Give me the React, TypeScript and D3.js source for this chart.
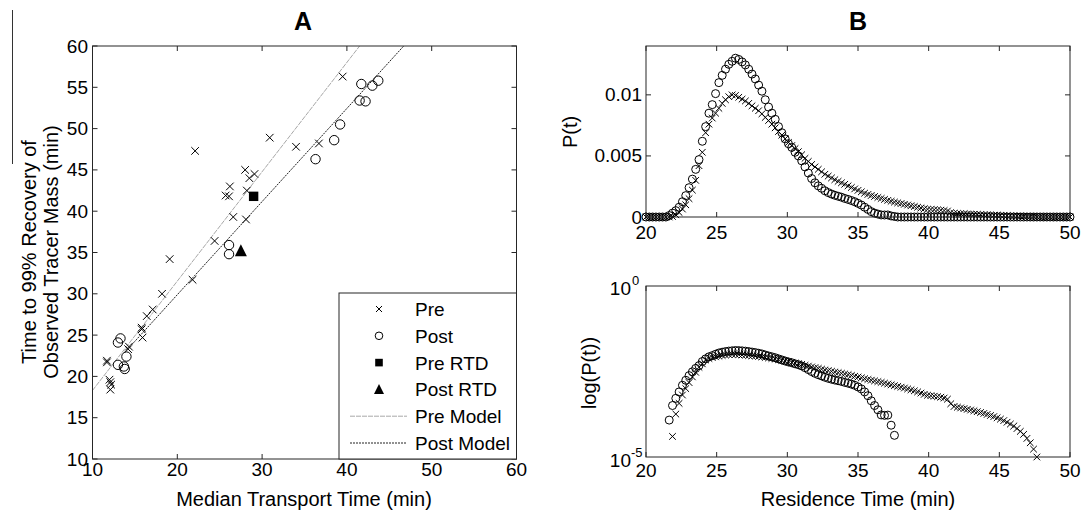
import React from "react";
import * as d3 from "d3";

// ---------- Panel A data ----------
const preX = [22.1, 30.9, 34.0, 28.0, 29.1, 28.5, 26.2, 25.7, 26.1, 28.2, 26.6, 28.1, 24.4, 36.7, 39.5, 19.1, 21.8, 18.2, 17.1, 16.4, 15.8, 15.8, 15.9, 14.3, 14.2, 11.7, 11.7, 12.0, 12.1, 12.1, 12.2];
const preY = [47.3, 48.9, 47.8, 45.0, 44.5, 44.0, 43.0, 41.9, 41.8, 42.5, 39.3, 39.0, 36.4, 48.2, 56.3, 34.2, 31.7, 30.0, 28.1, 27.3, 25.9, 25.7, 24.7, 23.6, 23.3, 21.9, 21.7, 19.6, 19.3, 18.4, 19.0];
const postX = [41.7, 43.0, 43.7, 41.5, 42.2, 39.2, 38.5, 36.3, 26.1, 26.1, 13.3, 13.0, 14.0, 13.0, 13.7, 13.8];
const postY = [55.4, 55.2, 55.8, 53.4, 53.3, 50.5, 48.6, 46.3, 35.9, 34.8, 24.6, 24.1, 22.4, 21.4, 21.2, 20.9];
const preRTD = [29.0, 41.8];
const postRTD = [27.5, 35.2];
const preModelX = [10, 41.5];
const preModelY = [18.3, 60];
const postModelX = [14.6, 46.7];
const postModelY = [23.8, 60];
const legendLabels = ["Pre", "Post", "Pre RTD", "Post RTD", "Pre Model", "Post Model"];
const ticksA = [10, 15, 20, 25, 30, 35, 40, 45, 50, 55, 60];
const xTicksA = [10, 20, 30, 40, 50, 60];

// ---------- Panel B data ----------
const timeStart = 20;
const timeStep = 0.234375;
const preP = [
  0, 0, 0, 0, 0, 0, 0, 0, 4e-5, 1.8e-4,
  3.7e-4, 6.5e-4, 1.0e-3, 1.5e-3, 2.2e-3, 3.0e-3, 4.2e-3, 5.3e-3, 6.9e-3, 7.6e-3,
  8.1e-3, 8.5e-3, 8.9e-3, 9.3e-3, 9.6e-3, 9.85e-3, 1.0e-2, 9.95e-3, 9.8e-3, 9.65e-3,
  9.5e-3, 9.3e-3, 9.1e-3, 8.9e-3, 8.7e-3, 8.45e-3, 8.15e-3, 7.9e-3, 7.6e-3, 7.3e-3,
  7.0e-3, 6.7e-3, 6.4e-3, 6.1e-3, 5.85e-3, 5.6e-3, 5.35e-3, 5.1e-3, 4.8e-3, 4.55e-3,
  4.3e-3, 4.1e-3, 3.9e-3, 3.7e-3, 3.5e-3, 3.35e-3, 3.2e-3, 3.05e-3, 2.92e-3, 2.8e-3,
  2.68e-3, 2.55e-3, 2.42e-3, 2.3e-3, 2.18e-3, 2.06e-3, 1.95e-3, 1.85e-3, 1.76e-3, 1.68e-3,
  1.6e-3, 1.52e-3, 1.44e-3, 1.36e-3, 1.29e-3, 1.22e-3, 1.16e-3, 1.1e-3, 1.04e-3, 9.8e-4,
  9.2e-4, 8.6e-4, 8.0e-4, 7.4e-4, 6.8e-4, 6.4e-4, 6.2e-4, 6.0e-4, 5.8e-4, 5.6e-4,
  5.3e-4, 4.9e-4, 3.6e-4, 3.0e-4, 2.85e-4, 2.72e-4, 2.6e-4, 2.48e-4, 2.36e-4, 2.24e-4,
  2.12e-4, 2.0e-4, 1.88e-4, 1.76e-4, 1.64e-4, 1.52e-4, 1.4e-4, 1.28e-4, 1.16e-4, 1.04e-4,
  9.2e-5, 8.0e-5, 6.8e-5, 5.6e-5, 4.6e-5, 3.5e-5, 2.6e-5, 1.7e-5, 1.0e-5, 0,
  0, 0, 0, 0, 0, 0, 0, 0, 0,
];
const postP = [
  0, 0, 0, 0, 0, 0, 0, 1.2e-4, 3.2e-4, 5.2e-4,
  8.0e-4, 1.25e-3, 1.75e-3, 2.4e-3, 3.1e-3, 3.9e-3, 4.7e-3, 6.2e-3, 7.4e-3, 8.5e-3,
  9.2e-3, 1.01e-2, 1.10e-2, 1.16e-2, 1.21e-2, 1.25e-2, 1.275e-2, 1.30e-2, 1.29e-2, 1.27e-2,
  1.245e-2, 1.21e-2, 1.17e-2, 1.13e-2, 1.08e-2, 1.03e-2, 9.6e-3, 9.0e-3, 8.5e-3, 8.0e-3,
  7.4e-3, 6.9e-3, 6.4e-3, 6.0e-3, 5.7e-3, 5.3e-3, 5.0e-3, 4.6e-3, 4.1e-3, 3.6e-3,
  3.15e-3, 2.8e-3, 2.55e-3, 2.35e-3, 2.15e-3, 2.0e-3, 1.88e-3, 1.78e-3, 1.7e-3, 1.62e-3,
  1.52e-3, 1.44e-3, 1.35e-3, 1.25e-3, 1.12e-3, 9.8e-4, 8.0e-4, 6.2e-4, 4.4e-4, 3.2e-4,
  2.4e-4, 1.7e-4, 1.65e-4, 1.68e-4, 8.5e-5, 4.3e-5, 0, 0, 0, 0,
  0, 0, 0, 0, 0, 0, 0, 0, 0, 0,
  0, 0, 0, 0, 0, 0, 0, 0, 0, 0,
  0, 0, 0, 0, 0, 0, 0, 0, 0, 0,
  0, 0, 0, 0, 0, 0, 0, 0, 0, 0,
  0, 0, 0, 0, 0, 0, 0, 0, 0,
];
const xTicksB = [20, 25, 30, 35, 40, 45, 50];
const yTicksB1 = [0, 0.005, 0.01];
const yTickLabelsB1 = ["0", "0.005", "0.01"];

const FONT = "'Liberation Sans', Arial, Helvetica, sans-serif";
const AX = "#262626";
const TL = 5;

function XMark({ x, y, r }: { x: number; y: number; r: number }) {
  return <path d={`M${x - r},${y - r}L${x + r},${y + r}M${x - r},${y + r}L${x + r},${y - r}`} stroke="#000" strokeWidth={1} fill="none" />;
}

function Frame({ x, y, xt, yt }: any) {
  const [x0, x1] = x.range();
  const [y0, y1] = y.range();
  const top = Math.min(y0, y1), bot = Math.max(y0, y1);
  return (
    <g stroke={AX} strokeWidth={1} fill="none">
      <rect x={x0} y={top} width={x1 - x0} height={bot - top} />
      {xt.map((t: number) => (
        <g key={"x" + t}>
          <line x1={x(t)} x2={x(t)} y1={bot} y2={bot - TL} />
          <line x1={x(t)} x2={x(t)} y1={top} y2={top + TL} />
        </g>
      ))}
      {yt.map((t: number) => (
        <g key={"y" + t}>
          <line x1={x0} x2={x0 + TL} y1={y(t)} y2={y(t)} />
          <line x1={x1} x2={x1 - TL} y1={y(t)} y2={y(t)} />
        </g>
      ))}
    </g>
  );
}

export default function App() {
  const xA = d3.scaleLinear().domain([10, 60]).range([92.5, 516.5]);
  const yA = d3.scaleLinear().domain([10, 60]).range([459, 46]);
  const xB = d3.scaleLinear().domain([20, 50]).range([646, 1070]);
  const yB1 = d3.scaleLinear().domain([0, 0.014]).range([217, 46]);
  const yB2 = d3.scaleLog().domain([1e-5, 1]).range([457, 286]);
  const times = d3.range(preP.length).map((i) => timeStart + i * timeStep);
  const lineA = d3.line<[number, number]>().x((d) => xA(d[0])).y((d) => yA(d[1]));
  const preModel = preModelX.map((v, i) => [v, preModelY[i]] as [number, number]);
  const postModel = postModelX.map((v, i) => [v, postModelY[i]] as [number, number]);

  const legX = 339, legTop = 293, legR = 516.5, legB = 459;
  const rowY = (k: number) => 309 + k * 26.8;
  const mx = 379;

  const tri = (cx: number, cy: number, s: number) =>
    `M${cx},${cy - s * 0.55}L${cx + s / 2},${cy + s * 0.45}L${cx - s / 2},${cy + s * 0.45}Z`;

  return (
    <svg width={1084} height={513} style={{ position: "absolute", left: 0, top: 0, background: "#fff" }} fontFamily={FONT}>
      <rect x={0} y={0} width={1084} height={513} fill="#fff" />
      <line x1={12.5} x2={12.5} y1={10} y2={164} stroke="#333" strokeWidth={1} />

      {/* Panel A */}
      <text x={303} y={30} textAnchor="middle" fontSize={25} fontWeight="bold">A</text>
      <line x1={0} x2={0} y1={0} y2={0} />
      <path d={lineA(preModel) || ""} stroke="#a8a8a8" strokeWidth={1} fill="none" strokeDasharray="5,1" />
      <path d={lineA(postModel) || ""} stroke="#222" strokeWidth={1} fill="none" strokeDasharray="2,1" />
      {preX.map((v, i) => <XMark key={"pa" + i} x={xA(v)} y={yA(preY[i])} r={3.8} />)}
      {postX.map((v, i) => <circle key={"pc" + i} cx={xA(v)} cy={yA(postY[i])} r={4.7} fill="none" stroke="#000" strokeWidth={1} />)}
      <rect x={xA(preRTD[0]) - 4.7} y={yA(preRTD[1]) - 4.7} width={9.4} height={9.4} fill="#000" />
      <path d={tri(xA(postRTD[0]), yA(postRTD[1]), 12)} fill="#000" />
      <Frame x={xA} y={yA} xt={xTicksA} yt={ticksA} />
      {ticksA.map((t) => (
        <text key={"ya" + t} x={88} y={yA(t) + 6.5} textAnchor="end" fontSize={19}>{t}</text>
      ))}
      {xTicksA.map((t) => (
        <text key={"xa" + t} x={xA(t)} y={476} textAnchor="middle" fontSize={19}>{t}</text>
      ))}
      <text x={304} y={506} textAnchor="middle" fontSize={20}>Median Transport Time (min)</text>
      <text transform="translate(36,252) rotate(-90)" textAnchor="middle" fontSize={20}>Time to 99% Recovery of</text>
      <text transform="translate(58,252) rotate(-90)" textAnchor="middle" fontSize={20}>Observed Tracer Mass (min)</text>

      {/* Legend */}
      <rect x={legX} y={legTop} width={legR - legX} height={legB - legTop} fill="#fff" stroke={AX} strokeWidth={1} />
      <XMark x={mx} y={rowY(0)} r={3} />
      <circle cx={mx} cy={rowY(1)} r={3.8} fill="none" stroke="#000" />
      <rect x={mx - 3.8} y={rowY(2) - 3.8} width={7.6} height={7.6} fill="#000" />
      <path d={tri(mx, rowY(3), 10)} fill="#000" />
      <line x1={350} x2={407} y1={rowY(4)} y2={rowY(4)} stroke="#a8a8a8" strokeDasharray="5,1" />
      <line x1={350} x2={407} y1={rowY(5)} y2={rowY(5)} stroke="#222" strokeDasharray="2,1" />
      {legendLabels.map((l, k) => (
        <text key={l} x={415} y={rowY(k) + 7} fontSize={19}>{l}</text>
      ))}

      {/* Panel B top */}
      <text x={858} y={30} textAnchor="middle" fontSize={25} fontWeight="bold">B</text>
      {times.map((t, i) => <circle key={"bc" + i} cx={xB(t)} cy={yB1(postP[i])} r={4} fill="none" stroke="#000" strokeWidth={1} />)}
      {times.map((t, i) => <XMark key={"bx" + i} x={xB(t)} y={yB1(preP[i])} r={3.3} />)}
      <Frame x={xB} y={yB1} xt={xTicksB} yt={yTicksB1} />
      {yTicksB1.map((t, i) => (
        <text key={"yb" + t} x={642} y={yB1(t) + 6.5} textAnchor="end" fontSize={19}>{yTickLabelsB1[i]}</text>
      ))}
      {xTicksB.map((t) => (
        <text key={"xb" + t} x={xB(t)} y={239} textAnchor="middle" fontSize={19}>{t}</text>
      ))}
      <text transform="translate(577,132) rotate(-90)" textAnchor="middle" fontSize={20}>P(t)</text>

      {/* Panel B bottom */}
      {times.map((t, i) => postP[i] > 0 ? <circle key={"lc" + i} cx={xB(t)} cy={yB2(postP[i])} r={4} fill="none" stroke="#000" strokeWidth={1} /> : null)}
      {times.map((t, i) => preP[i] > 0 ? <XMark key={"lx" + i} x={xB(t)} y={yB2(preP[i])} r={3.3} /> : null)}
      <Frame x={xB} y={yB2} xt={xTicksB} yt={[]} />
      <text x={631} y={yB2(1) + 9} textAnchor="end" fontSize={19}>10</text>
      <text x={632} y={yB2(1) - 1} fontSize={13}>0</text>
      <text x={631} y={yB2(1e-5) + 10} textAnchor="end" fontSize={19}>10</text>
      <text x={631} y={yB2(1e-5)} fontSize={13}>-5</text>
      {xTicksB.map((t) => (
        <text key={"xl" + t} x={xB(t)} y={477} textAnchor="middle" fontSize={19}>{t}</text>
      ))}
      <text x={858} y={506} textAnchor="middle" fontSize={20}>Residence Time (min)</text>
      <text transform="translate(596,373) rotate(-90)" textAnchor="middle" fontSize={20}>log(P(t))</text>
    </svg>
  );
}
